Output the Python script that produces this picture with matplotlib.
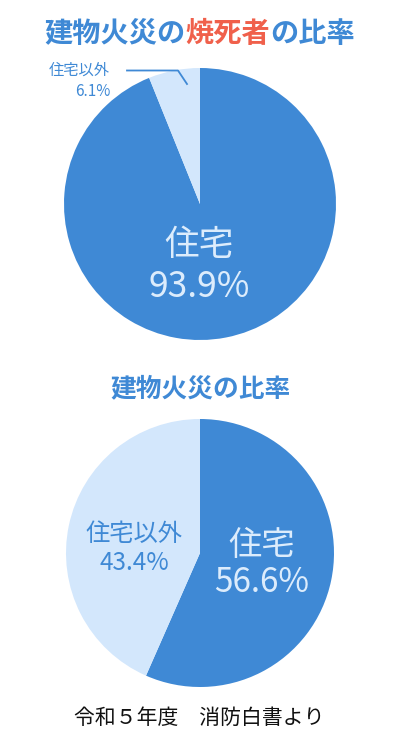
import matplotlib.pyplot as plt

plt.rcParams['font.family'] = ['Noto Sans CJK JP', 'DejaVu Sans']

# data
categories = ["住宅", "住宅以外"]
death_share = [93.9, 6.1]     # 建物火災の焼死者の比率
fire_share = [56.6, 43.4]     # 建物火災の比率

DARK = "#3f89d5"
LIGHT = "#d3e7fc"
RED = "#f0604b"
PALE = "#dcecfc"

W, H = 400, 750
fig = plt.figure(figsize=(W / 100, H / 100), dpi=100)
fig.patch.set_facecolor("white")


def px(x, y):
    # pixel (from top-left) -> figure fraction
    return x / W, 1 - y / H


def pie_axes(cx, cy, r, values):
    ax = fig.add_axes([(cx - r) / W, 1 - (cy + r) / H, 2 * r / W, 2 * r / H])
    ax.pie(values, colors=[DARK, LIGHT], startangle=90, counterclock=False,
           radius=1, wedgeprops=dict(linewidth=0))
    ax.set_xlim(-1, 1)
    ax.set_ylim(-1, 1)
    ax.set_aspect("equal")
    ax.axis("off")
    return ax


# top title (two colours), chained piece by piece and centred
title_parts = [("建物火災の", DARK), ("焼死者", RED), ("の比率", DARK)]
renderer = fig.canvas.get_renderer()
pieces = []
for txt, col in title_parts:
    t = fig.text(0, 0, txt, color=col, fontsize=20.3, fontweight="bold",
                 ha="left", va="center")
    pieces.append((t, t.get_window_extent(renderer).width))
total = sum(w for _, w in pieces)
x0 = 200 - total / 2
for t, w in pieces:
    t.set_position(px(x0, 34))
    x0 += w

# top pie
ax1 = pie_axes(200, 204, 136, death_share)
fig.text(*px(199, 245), categories[0], color=PALE, fontsize=25,
         ha="center", va="center")
fig.text(*px(199, 287), f"{death_share[0]}%", color=PALE, fontsize=25.5,
         ha="center", va="center")

# leader line for small slice
fig.add_artist(plt.Line2D([127 / W, 178 / W, 187 / W],
                          [1 - 70.5 / H, 1 - 70.5 / H, 1 - 84 / H],
                          color=DARK, linewidth=1.3))
fig.text(*px(79, 70), categories[1], color=DARK, fontsize=11,
         ha="center", va="center")
fig.text(*px(110, 91), f"{death_share[1]}%", color=DARK, fontsize=11,
         ha="right", va="center")

# second title
fig.text(*px(200, 389), "建物火災の比率", color=DARK, fontsize=18.5,
         fontweight="bold", ha="center", va="center")

# bottom pie
ax2 = pie_axes(200, 553, 134, fire_share)
fig.text(*px(262, 546), categories[0], color=PALE, fontsize=24,
         ha="center", va="center")
fig.text(*px(262, 582), f"{fire_share[0]}%", color=PALE, fontsize=24,
         ha="center", va="center")
fig.text(*px(134, 534), categories[1], color=DARK, fontsize=17.5,
         ha="center", va="center")
fig.text(*px(134, 563), f"{fire_share[1]}%", color=DARK, fontsize=17.5,
         ha="center", va="center")

# source
fig.text(*px(199, 718), "令和５年度　消防白書より", color="#111111",
         fontsize=15, ha="center", va="center")

fig.savefig("out.png", dpi=100)
